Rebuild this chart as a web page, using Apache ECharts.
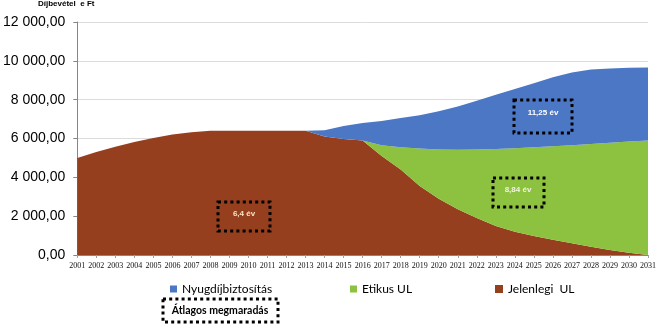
<!DOCTYPE html>
<html>
<head>
<meta charset="utf-8">
<script src="https://cdn.jsdelivr.net/npm/echarts@6/dist/echarts.min.js"></script>
<style>html,body{margin:0;padding:0;background:#fff}#c{width:664px;height:331px}</style>
</head>
<body>
<div id="c"></div>
<script>
var years = [];
for (var y = 2001; y <= 2031; y++) years.push(String(y));
var yTicks = [0, 2000, 4000, 6000, 8000, 10000, 12000];
var jelenlegi = [5000,5300,5580,5820,6030,6200,6320,6400,6400,6400,6400,6400,6400,6100,5980,5900,5100,4400,3550,2900,2350,1900,1500,1200,980,780,600,420,260,120,0];
var etikus = [0,0,0,0,0,0,0,0,0,0,0,0,0,0,0,0,550,1150,1930,2530,3070,3530,3960,4300,4570,4820,5050,5300,5520,5720,5900];
var nyugdij = [0,0,0,0,0,0,0,0,0,0,0,0,0,320,670,900,1250,1500,1720,1970,2230,2520,2790,3050,3300,3550,3750,3830,3820,3800,3760];
var seriesNames = ['Nyugdíjbiztosítás', 'Etikus UL', 'Jelenlegi  UL'];
var annotations = ['6,4 év', '8,84 év', '11,25 év'];

function fmt(v){ return String(Math.round(v)).replace(/\B(?=(\d{3})+(?!\d))/g,' ') + ',00'; }

var chart = echarts.init(document.getElementById('c'));
var BLUE = '#4b77c5', GREEN = '#8dc140', BROWN = '#963f1e';
function box(x, y, w, h){
  return {type:'rect', shape:{x:x,y:y,width:w,height:h}, style:{fill:'none', stroke:'#000', lineWidth:3, lineDash:[3,3.2]}, z:100};
}
function txt(x, y, s, color, font){
  return {type:'text', x:x, y:y, style:{text:s, fill:color, font:font, textAlign:'center', textVerticalAlign:'middle'}, z:100};
}
var small = 'bold 8px "Liberation Sans", Arial';
var legendText = {fontFamily:'Lato', fontSize:12, color:'#000'};
chart.setOption({
  animation:false,
  textStyle:{fontFamily:'"Liberation Sans", Arial'},
  grid:{left:76, right:16, top:22, bottom:76, containLabel:false},
  legend:[
    {data:[seriesNames[0]], left:165, top:278, itemWidth:7, itemHeight:7, itemGap:4, textStyle:legendText, icon:'rect'},
    {data:[seriesNames[1]], left:345, top:278, itemWidth:7, itemHeight:7, itemGap:4, textStyle:legendText, icon:'rect'},
    {data:[seriesNames[2]], left:490, top:278, itemWidth:8, itemHeight:8, itemGap:4, textStyle:legendText, icon:'rect'}
  ],
  xAxis:{
    type:'category', data:years, boundaryGap:false,
    axisLine:{lineStyle:{color:'#868686'}},
    axisTick:{show:true, interval:0, length:3, lineStyle:{color:'#a0a0a0'}},
    axisLabel:{interval:0, fontSize:8, fontFamily:'"Liberation Sans Narrow"', color:'#111', margin:7}
  },
  yAxis:{
    type:'value', min:yTicks[0], max:yTicks[yTicks.length-1], interval:2000,
    axisLine:{show:true, lineStyle:{color:'#868686'}},
    axisTick:{show:true, length:4, lineStyle:{color:'#868686'}},
    splitLine:{show:true, lineStyle:{color:'#dcdcdc'}},
    axisLabel:{formatter:fmt, fontSize:14, color:'#000', margin:12}
  },
  series:[
    {name:seriesNames[2], type:'line', stack:'t', data:jelenlegi, symbol:'none', lineStyle:{width:0}, areaStyle:{color:BROWN, opacity:1}, itemStyle:{color:BROWN}},
    {name:seriesNames[1], type:'line', stack:'t', data:etikus, symbol:'none', lineStyle:{width:0}, areaStyle:{color:GREEN, opacity:1}, itemStyle:{color:GREEN}},
    {name:seriesNames[0], type:'line', stack:'t', data:nyugdij, symbol:'none', lineStyle:{width:0}, areaStyle:{color:BLUE, opacity:1}, itemStyle:{color:BLUE}}
  ],
  graphic:[
    {type:'text', left:38, top:0, style:{text:'Díjbevétel  e Ft', fill:'#000', font:small}},
    box(218, 202, 52, 29), txt(244, 214, annotations[0], '#f5e4c8', small),
    box(493, 178, 51, 29), txt(518, 190, annotations[1], '#f2f2e0', small),
    box(514, 100, 58, 33), txt(543, 113, annotations[2], '#ffffff', small),
    box(163, 299, 115, 23), txt(220, 311, 'Átlagos megmaradás', '#000', 'bold 10.5px Lato')
  ]
});
</script>
</body>
</html>
